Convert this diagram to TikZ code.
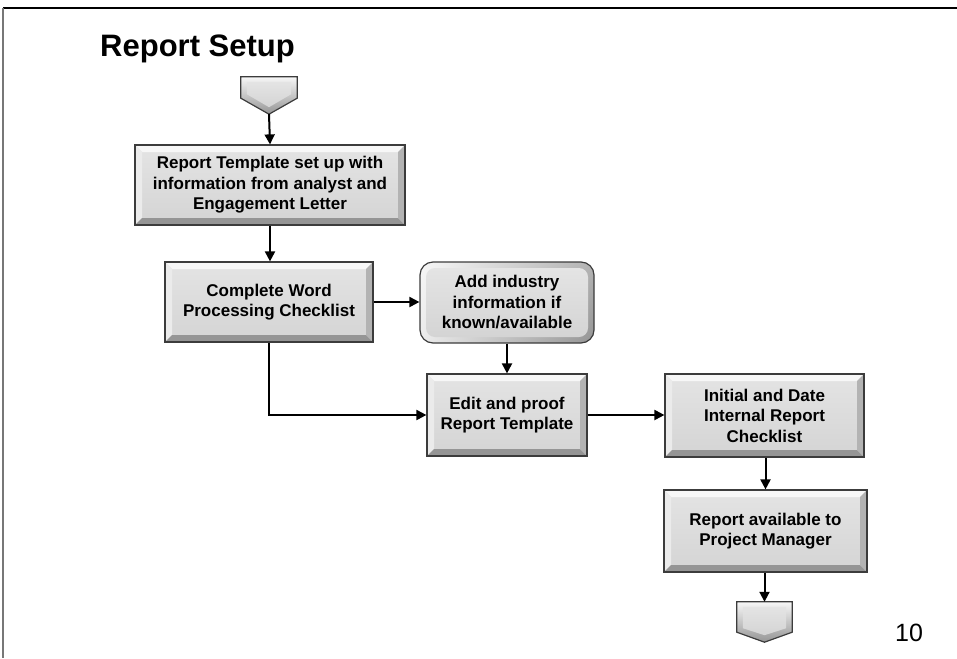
\documentclass[tikz,border=0pt]{standalone}
\usepackage{fontspec}
\setmainfont{Liberation Sans}
\usetikzlibrary{arrows.meta,calc,shadings}

\definecolor{facetop}{HTML}{E4E4E4}
\definecolor{facebot}{HTML}{D4D4D4}
\definecolor{bevlight}{HTML}{F7F7F7}
\definecolor{bevleft}{HTML}{EBEBEB}
\definecolor{bevdark}{HTML}{959595}
\definecolor{bevright}{HTML}{B3B3B3}
\definecolor{edge}{HTML}{3C3C3C}
\definecolor{framegray}{HTML}{777777}

\tikzset{
  boxtext/.style={font=\bfseries\fontsize{17}{20.5}\selectfont, align=center},
  % flat rectangle with a bevelled rim
  bevelbox/.style 2 args={rectangle, boxtext, inner sep=0pt,
    minimum width=#1, minimum height=#2, draw=edge, line width=1.2pt,
    path picture={
      \coordinate (NW) at (path picture bounding box.north west);
      \coordinate (NE) at (path picture bounding box.north east);
      \coordinate (SW) at (path picture bounding box.south west);
      \coordinate (SE) at (path picture bounding box.south east);
      \shade[top color=facetop, bottom color=facebot] (NW) rectangle (SE);
      \fill[bevlight] (NW) -- (NE) -- ($(NE)+(-7pt,-7pt)$) -- ($(NW)+(7pt,-7pt)$) -- cycle;
      \fill[bevleft] (NW) -- (SW) -- ($(SW)+(7pt,7pt)$) -- ($(NW)+(7pt,-7pt)$) -- cycle;
      \fill[bevdark] (SW) -- (SE) -- ($(SE)+(-7pt,7pt)$) -- ($(SW)+(7pt,7pt)$) -- cycle;
      \fill[bevright] (NE) -- (SE) -- ($(SE)+(-7pt,7pt)$) -- ($(NE)+(-7pt,-7pt)$) -- cycle;
    }},
  % rounded box with a soft rim
  roundbox/.style 2 args={rectangle, boxtext, inner sep=0pt,
    minimum width=#1, minimum height=#2, rounded corners=13pt,
    draw=edge, line width=1.2pt,
    path picture={
      \coordinate (NW) at (path picture bounding box.north west);
      \coordinate (SE) at (path picture bounding box.south east);
      \shade[upper left=bevlight, lower right=bevdark, upper right=bevright, lower left=bevleft] (NW) rectangle (SE);
      \shade[top color=facetop, bottom color=facebot, rounded corners=9pt]
        ($(NW)+(6pt,-6pt)$) rectangle ($(SE)+(-6pt,6pt)$);
    }},
  connbox/.style 2 args={rectangle, inner sep=0pt, minimum width=#1, minimum height=#2},
  arr/.style={line width=2pt, -{Triangle[length=10pt,width=10pt]}},
  x=1pt, y=-1pt
}

\begin{document}
\begin{tikzpicture}
\useasboundingbox (0,0) rectangle (957,658);

% page frame
\draw[black, line width=1.6pt] (3,8) -- (957,8);
\draw[framegray, line width=2.4pt] (3,8) -- (3,658);

% title and page number
\node[anchor=base west, inner sep=0pt, font=\bfseries\fontsize{31}{36}\selectfont] (title) at (100,57) {Report Setup};
\node[anchor=base west, inner sep=0pt, font=\fontsize{25}{30}\selectfont] (page) at (895,641) {10};

% off-page connectors
\node[connbox={56pt}{37pt}] (start) at (269,95.5) {};
\node[connbox={55pt}{40pt}] (end) at (764.5,622) {};
\foreach \c/\d in {start/16pt, end/10pt}{
  \shade[draw=edge, line width=1.2pt, top color=bevlight, bottom color=bevdark]
    (\c.north west) -- (\c.north east) -- ([yshift=\d]\c.south east) -- (\c.south)
    -- ([yshift=\d]\c.south west) -- cycle;
  \shade[top color=facetop, bottom color=facebot]
    ([xshift=6pt,yshift=-5pt]\c.north west) -- ([xshift=-6pt,yshift=-5pt]\c.north east)
    -- ([xshift=-6pt,yshift=\d+4pt]\c.south east) -- ([yshift=7pt]\c.south)
    -- ([xshift=6pt,yshift=\d+4pt]\c.south west) -- cycle;
}

% process boxes
\node[bevelbox={270pt}{80pt}] (b1) at (270,185) {Report Template set up with\\information from analyst and\\Engagement Letter};
\node[bevelbox={208pt}{80pt}] (b2) at (269,302) {Complete Word\\Processing Checklist};
\node[roundbox={174pt}{81pt}] (b3) at (507,302.5) {Add industry\\information if\\known/available};
\node[bevelbox={160pt}{82pt}] (b4) at (507,415) {Edit and proof\\Report Template};
\node[bevelbox={199pt}{83pt}] (b5) at (764.5,415.5) {Initial and Date\\Internal Report\\Checklist};
\node[bevelbox={203pt}{82pt}] (b6) at (765.5,531) {Report available to\\Project Manager};

% flow
\draw[arr] (start.south) -- (b1.north);
\draw[arr] (b1.south) -- (b1.south |- b2.north);
\draw[arr] (b2.east) -- (b2.east -| b3.west);
\draw[arr] (b3.south) -- (b4.north);
\draw[arr] (b2.south) |- (b4.west);
\draw[arr] (b4.east) -- (b4.east -| b5.west);
\draw[arr] (b5.south -| b6.north) -- (b6.north);
\draw[arr] (b6.south -| end.north) -- (end.north);
\end{tikzpicture}
\end{document}
